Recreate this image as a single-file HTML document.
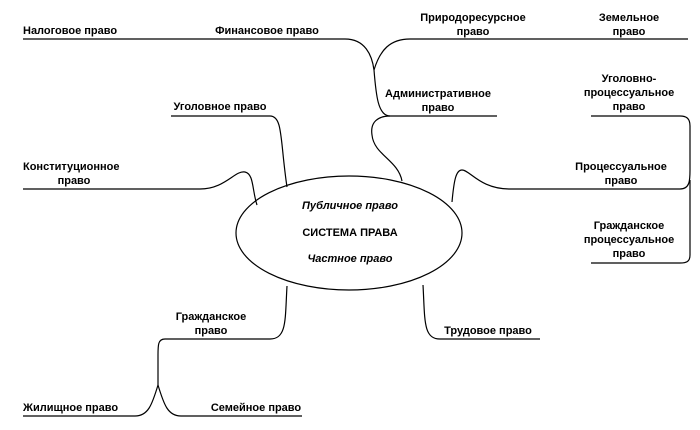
<!DOCTYPE html>
<html><head><meta charset="utf-8"><style>
body{margin:0;background:#fff;width:700px;height:425px;overflow:hidden}
svg text{font-family:"Liberation Sans",sans-serif;font-size:11px;font-weight:bold;fill:#000}
</style></head><body>
<svg width="700" height="425" viewBox="0 0 700 425">
<g fill="none" stroke="#000" stroke-width="1.2">
<path d="M23,39 H345 C365,39 372,55 374,70 C376,95 378,116 390,116 H497"/>
<path d="M374,70 C380,50 390,39 410,39 H688"/>
<path d="M390,116 C378,116 370,122 372,135 C374,155 398,160 402,181"/>
<path d="M171,116 H270 C283,116 280,140 287,187"/>
<path d="M23,189 H200 C225,189 235,170 245,172 C254,174 252,190 257,205"/>
<path d="M452,202 C454,180 456,170 462,170 C470,170 480,189 510,189 H680 C690,189 690,180 690,170 V126 C690,118 686,116 680,116 H591"/>
<path d="M690,180 C690,189 690,192 690,200 V255 C690,262 686,263 680,263 H591"/>
<ellipse cx="349" cy="233" rx="113" ry="57"/>
<path d="M287,286 C285,320 287,339 270,339 H165 C158,339 158,345 158,355 V385"/>
<path d="M158,385 C152,405 148,416 135,416 H23"/>
<path d="M158,385 C164,405 168,416 181,416 H302"/>
<path d="M423,285 C425,320 423,339 440,339 H540"/>
</g>
<text x="23" y="34">Налоговое право</text>
<text x="267" y="34" text-anchor="middle">Финансовое право</text>
<text x="473" y="21" text-anchor="middle">Природоресурсное</text>
<text x="473" y="35" text-anchor="middle">право</text>
<text x="629" y="21" text-anchor="middle">Земельное</text>
<text x="629" y="35" text-anchor="middle">право</text>
<text x="220" y="110" text-anchor="middle">Уголовное право</text>
<text x="438" y="97" text-anchor="middle">Административное</text>
<text x="438" y="111" text-anchor="middle">право</text>
<text x="629" y="82" text-anchor="middle">Уголовно-</text>
<text x="629" y="96" text-anchor="middle">процессуальное</text>
<text x="629" y="110" text-anchor="middle">право</text>
<text x="23" y="170">Конституционное</text>
<text x="74" y="184" text-anchor="middle">право</text>
<text x="621" y="170" text-anchor="middle">Процессуальное</text>
<text x="621" y="184" text-anchor="middle">право</text>
<text x="629" y="229" text-anchor="middle">Гражданское</text>
<text x="629" y="243" text-anchor="middle">процессуальное</text>
<text x="629" y="257" text-anchor="middle">право</text>
<text x="350" y="209" text-anchor="middle" font-style="italic">Публичное право</text>
<text x="350" y="236" text-anchor="middle">СИСТЕМА ПРАВА</text>
<text x="350" y="262" text-anchor="middle" font-style="italic">Частное право</text>
<text x="211" y="320" text-anchor="middle">Гражданское</text>
<text x="211" y="334" text-anchor="middle">право</text>
<text x="488" y="334" text-anchor="middle">Трудовое право</text>
<text x="23" y="411">Жилищное право</text>
<text x="256" y="411" text-anchor="middle">Семейное право</text>
</svg>
</body></html>
